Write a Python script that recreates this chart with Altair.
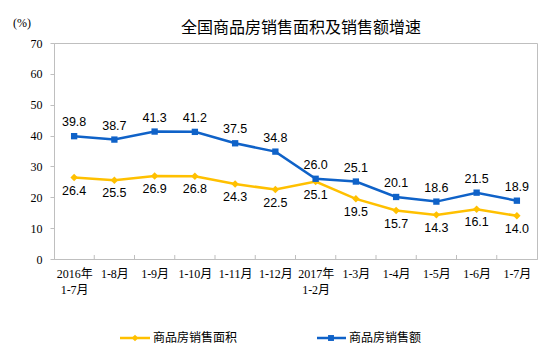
import altair as alt
import pandas as pd

categories = ["2016年\n1-7月", "1-8月", "1-9月", "1-10月", "1-11月", "1-12月",
              "2017年\n1-2月", "1-3月", "1-4月", "1-5月", "1-6月", "1-7月"]
area_growth = [26.4, 25.5, 26.9, 26.8, 24.3, 22.5, 25.1, 19.5, 15.7, 14.3, 16.1, 14.0]
sales_growth = [39.8, 38.7, 41.3, 41.2, 37.5, 34.8, 26.0, 25.1, 20.1, 18.6, 21.5, 18.9]
series_names = ["商品房销售面积", "商品房销售额"]
title_text = "全国商品房销售面积及销售额增速"
unit_text = "(%)"

YELLOW = "#FFC000"
BLUE = "#0F62C8"
GRAY = "#BFBFBF"
CJK = "Noto Sans CJK SC"
W, H = 483, 216

df = pd.DataFrame({
    "idx": list(range(len(categories))),
    "cat": categories,
    "area": area_growth,
    "sales": sales_growth,
})
one = pd.DataFrame({"k": [0]})

label_expr = "split([" + ",".join("'" + c.replace("\n", "\\n") + "'" for c in categories) + "][datum.value], '\\n')"

xscale = alt.Scale(domain=[-0.5, len(categories) - 0.5], nice=False, zero=False)
yscale = alt.Scale(domain=[0, 70], nice=False)

x_axis = alt.Axis(
    values=list(range(len(categories))), labelExpr=label_expr, tickSize=0,
    labelFont="Liberation Serif, " + CJK, labelFontSize=12, labelColor="#000",
    labelPadding=9, labelLineHeight=16, domainColor=GRAY, grid=False, title=None,
    labelBaseline="top", labelFlush=False, labelOverlap=False)

y_axis = alt.Axis(values=list(range(0, 71, 10)), tickSize=4, tickColor=GRAY,
                  domainColor=GRAY, grid=False, labelFont="Liberation Serif",
                  labelFontSize=12, labelColor="#000", labelPadding=8,
                  labelOverlap=False, title=None)

X = alt.X("idx:Q", scale=xscale, axis=x_axis)
YA = alt.Y("area:Q", scale=yscale, axis=y_axis)
YS = alt.Y("sales:Q", scale=yscale, axis=y_axis)

base = alt.Chart(df)

area_line = base.mark_line(color=YELLOW, strokeWidth=2.5).encode(x=X, y=YA)
area_pts = base.mark_point(shape="diamond", filled=True, color=YELLOW, size=55, opacity=1).encode(x=X, y=YA)
sales_line = base.mark_line(color=BLUE, strokeWidth=2.5).encode(x=X, y=YS)
sales_pts = base.mark_point(shape="square", filled=True, color=BLUE, size=40, opacity=1).encode(x=X, y=YS)

area_lbl = base.mark_text(dy=13, font="Liberation Sans", fontSize=12.5, color="#000").encode(
    x=X, y=YA, text=alt.Text("area:Q", format=".1f"))
sales_lbl = base.mark_text(dy=-14, font="Liberation Sans", fontSize=12.5, color="#000").encode(
    x=X, y=YS, text=alt.Text("sales:Q", format=".1f"))

# inward ticks on x axis at category boundaries
ticks = base.transform_filter("datum.idx < %d" % (len(categories) - 1)).transform_calculate(
    b="datum.idx + 0.5").mark_rule(color=GRAY, strokeWidth=1).encode(
    x=alt.X("b:Q", scale=xscale, axis=x_axis), y=alt.value(H), y2=alt.value(H - 4))

# title and unit label
title = alt.Chart(one).mark_text(font=CJK, fontSize=16, color="#000", baseline="middle").encode(
    x=alt.value(247), y=alt.value(-15), text=alt.value(title_text))
unit = alt.Chart(one).mark_text(font="Liberation Serif", fontSize=12, color="#000", baseline="middle").encode(
    x=alt.value(-32), y=alt.value(-20), text=alt.value(unit_text))

# legend (manual)
leg_y = 295
leg = []
leg.append(alt.Chart(one).mark_rule(color=YELLOW, strokeWidth=2.5).encode(
    x=alt.value(66), x2=alt.value(96), y=alt.value(leg_y)))
leg.append(alt.Chart(one).mark_point(shape="diamond", filled=True, color=YELLOW, size=45, opacity=1).encode(
    x=alt.value(81), y=alt.value(leg_y)))
leg.append(alt.Chart(one).mark_text(align="left", baseline="middle", font=CJK, fontSize=12, color="#000").encode(
    x=alt.value(99), y=alt.value(leg_y), text=alt.value(series_names[0])))
leg.append(alt.Chart(one).mark_rule(color=BLUE, strokeWidth=2.5).encode(
    x=alt.value(263), x2=alt.value(292), y=alt.value(leg_y)))
leg.append(alt.Chart(one).mark_point(shape="square", filled=True, color=BLUE, size=35, opacity=1).encode(
    x=alt.value(277), y=alt.value(leg_y)))
leg.append(alt.Chart(one).mark_text(align="left", baseline="middle", font=CJK, fontSize=12, color="#000").encode(
    x=alt.value(295), y=alt.value(leg_y), text=alt.value(series_names[1])))

chart = alt.layer(area_line, ticks, sales_line, area_pts, sales_pts, area_lbl, sales_lbl,
                  title, unit, *leg).properties(
    width=W, height=H,
    autosize=alt.AutoSizeParams(type="none"),
    padding={"left": 46, "top": 35, "right": 9, "bottom": 100},
).configure_view(stroke=GRAY, strokeWidth=1)

chart.save("out.html", embed_options={"renderer": "svg", "actions": False})
